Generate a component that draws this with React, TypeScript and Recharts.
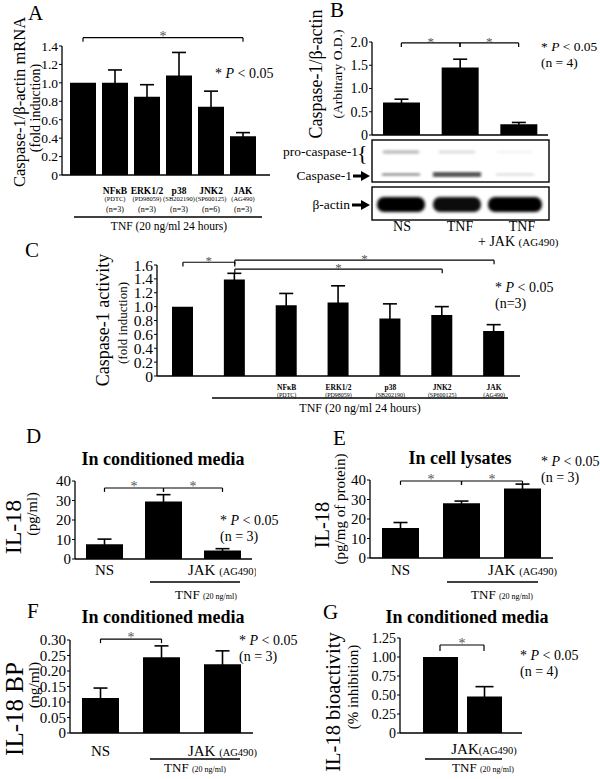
import React from 'react'
import { BarChart, Bar, XAxis, YAxis, ErrorBar, ReferenceLine } from 'recharts'

const SERIF = '"Liberation Serif", "Times New Roman", serif'

// ---- data ----
// A: caspase-1 mRNA
const aCats = ['TNF', 'NFκB', 'ERK1/2', 'p38', 'JNK2', 'JAK']
const aNames = ['', 'NFκB', 'ERK1/2', 'p38', 'JNK2', 'JAK']
const aInhib = ['', '(PDTC)', '(PD98059)', '(SB202190)', '(SP600125)', '(AG490)']
const aN = ['', '(n=3)', '(n=3)', '(n=3)', '(n=6)', '(n=3)']
const aMean = [1.0, 1.0, 0.85, 1.08, 0.74, 0.42]
const aErr = [0, 0.14, 0.13, 0.25, 0.17, 0.04]
const aTicks = [0, 0.2, 0.4, 0.6, 0.8, 1.0, 1.2, 1.4]

// B: caspase-1 / beta-actin densitometry
const bCats = ['NS', 'TNF', 'TNF + JAK']
const bMean = [0.7, 1.45, 0.23]
const bErr = [0.07, 0.18, 0.04]
const bTicks = [0, 0.5, 1.0, 1.5, 2.0]
const blotPro = [0.22, 0.1, 0.03]
const blotCasp = [0.35, 0.65, 0.1]
const blotActin = [1, 0.95, 1]

// C: caspase-1 activity
const cCats = ['NS', 'TNF', 'NFκB', 'ERK1/2', 'p38', 'JNK2', 'JAK']
const cNames = ['', '', 'NFκB', 'ERK1/2', 'p38', 'JNK2', 'JAK']
const cInhib = ['', '', '(PDTC)', '(PD98059)', '(SB202190)', '(SP600125)', '(AG490)']
const cMean = [1.0, 1.39, 1.02, 1.06, 0.83, 0.88, 0.65]
const cErr = [0, 0.09, 0.17, 0.24, 0.21, 0.12, 0.09]
const cTicks = [0, 0.2, 0.4, 0.6, 0.8, 1.0, 1.2, 1.4, 1.6]

// D/E/F: NS, TNF, TNF + JAK
const treatCats = ['NS', 'TNF', 'JAK']
const treatNames = ['NS', '', 'JAK ']
const treatSub = ['', '', '(AG490)']
const dMean = [7.6, 29.5, 4.4]
const dErr = [2.6, 3.5, 0.9]
const eMean = [15.4, 28.1, 35.7]
const eErr = [2.8, 1.1, 2.2]
const il18Ticks = [0, 10, 20, 30, 40]
const fMean = [0.113, 0.244, 0.222]
const fErr = [0.032, 0.037, 0.043]
const fTicks = [0, 0.05, 0.1, 0.15, 0.2, 0.25, 0.3]

// G: bioactivity
const gCats = ['TNF', 'JAK']
const gNames = ['', 'JAK']
const gSub = ['', '(AG490)']
const gMean = [1.0, 0.48]
const gErr = [0, 0.13]
const gTicks = [0, 0.25, 0.5, 0.75, 1.0, 1.25]

type Bracket = { from: string; to: string; y: number; drop: number }
const aBrackets: Bracket[] = [{ from: 'TNF', to: 'JAK', y: 1.49, drop: 0.045 }]
const bBrackets: Bracket[] = [
  { from: 'NS', to: 'TNF', y: 1.98, drop: 0.09 },
  { from: 'TNF', to: 'TNF + JAK', y: 1.98, drop: 0.09 },
]
const cBrackets: Bracket[] = [
  { from: 'NS', to: 'TNF', y: 1.64, drop: 0.06 },
  { from: 'TNF', to: 'JAK', y: 1.67, drop: 0.06 },
  { from: 'TNF', to: 'JNK2', y: 1.54, drop: 0.06 },
]
const dBrackets: Bracket[] = [
  { from: 'NS', to: 'TNF', y: 36.4, drop: 2 },
  { from: 'TNF', to: 'JAK', y: 36.4, drop: 2 },
]
const eBrackets: Bracket[] = [
  { from: 'NS', to: 'TNF', y: 39.5, drop: 2 },
  { from: 'TNF', to: 'JAK', y: 39.5, drop: 2 },
]
const fBrackets: Bracket[] = [{ from: 'NS', to: 'TNF', y: 0.303, drop: 0.013 }]
const gBrackets: Bracket[] = [{ from: 'TNF', to: 'JAK', y: 1.158, drop: 0.08 }]

const fmt0 = (v: number) => String(v)
const fmt1 = (v: number) => (v === 0 ? '0' : v.toFixed(1))
const fmt2 = (v: number) => (v === 0 ? '0' : v.toFixed(2))

const AXIS = { stroke: '#000', strokeWidth: 1.3 }

const StarLabel = ({ viewBox, size }: any) => {
  if (!viewBox) return null
  const { x, y, width } = viewBox
  return (
    <text x={x + width / 2} y={y + size * 0.22} textAnchor="middle" fontSize={size} fill="#555">*</text>
  )
}

function bracketLines(brs: Bracket[], star: number) {
  return brs.flatMap((b, i) => [
    <ReferenceLine
      key={`h${i}`}
      segment={[{ x: b.from, y: b.y }, { x: b.to, y: b.y }]}
      stroke="#000"
      strokeWidth={1.2}
      ifOverflow="visible"
      label={<StarLabel size={star} />}
    />,
    <ReferenceLine key={`l${i}`} segment={[{ x: b.from, y: b.y }, { x: b.from, y: b.y - b.drop }]}
      stroke="#000" strokeWidth={1.2} ifOverflow="visible" />,
    <ReferenceLine key={`r${i}`} segment={[{ x: b.to, y: b.y }, { x: b.to, y: b.y - b.drop }]}
      stroke="#000" strokeWidth={1.2} ifOverflow="visible" />,
  ])
}

interface PanelProps {
  box: [number, number, number, number] // plot area: left, top, right, bottom
  cats: string[]
  mean: number[]
  err: number[]
  domain: [number, number]
  ticks: number[]
  fmt: (v: number) => string
  barSize: number
  tickFont: number
  xTick?: any
  pad?: { left: number; right: number }
  brackets: Bracket[]
  star?: number
  capW?: number
}

function Panel({ box, cats, mean, err, domain, ticks, fmt, barSize, tickFont, xTick, pad, brackets, star = 14, capW = 7 }: PanelProps) {
  const YW = 44, MT = 34, MR = 4, XH = 44
  const [l, t, r, b] = box
  const data = cats.map((c, i) => ({ cat: c, mean: mean[i], err: err[i] }))
  return (
    <div style={{ position: 'absolute', left: l - YW, top: t - MT }}>
      <BarChart
        width={r - l + YW + MR}
        height={b - t + MT + XH}
        data={data}
        margin={{ top: MT, right: MR, bottom: 0, left: 0 }}
      >
        <XAxis
          dataKey="cat"
          interval={0}
          tickSize={0}
          tickLine={false}
          axisLine={AXIS}
          tick={xTick ?? false}
          height={XH}
          padding={pad ?? { left: 0, right: 0 }}
        />
        <YAxis
          width={YW}
          domain={domain}
          ticks={ticks}
          interval={0}
          tickFormatter={fmt}
          tickSize={3}
          tickMargin={1}
          axisLine={AXIS}
          tickLine={{ stroke: '#000' }}
          tick={{ fill: '#000', fontSize: tickFont, fontFamily: SERIF }}
        />
        <Bar dataKey="mean" fill="#000" barSize={barSize} isAnimationActive={false}>
          <ErrorBar dataKey="err" width={capW} stroke="#000" strokeWidth={1.6} direction="y" />
        </Bar>
        {bracketLines(brackets, star)}
      </BarChart>
    </div>
  )
}

const aTick = ({ x, y, index }: any) => (
  <g textAnchor="middle" fill="#000">
    <text x={x} y={y + 17} fontSize={9.5} fontWeight="bold">{aNames[index]}</text>
    <text x={x} y={y + 24} fontSize={6.5}>{aInhib[index]}</text>
    <text x={x} y={y + 35} fontSize={8}>{aN[index]}</text>
  </g>
)

const cTick = ({ x, y, index }: any) => (
  <g textAnchor="middle" fill="#000">
    <text x={x} y={y + 12} fontSize={7.5} fontWeight="bold">{cNames[index]}</text>
    <text x={x} y={y + 19} fontSize={6}>{cInhib[index]}</text>
  </g>
)

const labelTick = (names: string[], subs: string[], dy: number) => ({ x, y, index }: any) => (
  <text x={x} y={y + dy} textAnchor="middle" fontSize={15} fill="#000">
    {names[index]}
    <tspan fontSize={10.5}>{subs[index]}</tspan>
  </text>
)

// rotated axis titles
const VLabel = ({ x, y, s, children }: any) => (
  <text transform={`translate(${x},${y}) rotate(-90)`} textAnchor="middle" dominantBaseline="central" fontSize={s}>
    {children}
  </text>
)

const PVal = ({ x, y, n, s = 14 }: any) => (
  <g fontSize={s}>
    <text x={x} y={y}>* <tspan fontStyle="italic">P</tspan> &lt; 0.05</text>
    {n && <text x={x} y={y + 16}>{n}</text>}
  </g>
)

const TnfLine = ({ x1, x2, y, cx, ty }: any) => (
  <g>
    <line x1={x1} x2={x2} y1={y} y2={y} stroke="#000" strokeWidth={1.3} />
    <text x={cx} y={ty} textAnchor="middle" fontSize={13}>
      TNF <tspan fontSize={8}>(20 ng/ml)</tspan>
    </text>
  </g>
)

const Title = ({ x, y, children }: any) => (
  <text x={x} y={y} textAnchor="middle" fontSize={18} fontWeight="bold">{children}</text>
)

function Blot() {
  const lanes = [401, 457, 515]
  return (
    <g>
      <defs>
        <filter id="bl1" x="-30%" y="-200%" width="160%" height="500%"><feGaussianBlur stdDeviation="1.6 1.0" /></filter>
        <filter id="bl2" x="-20%" y="-50%" width="140%" height="200%"><feGaussianBlur stdDeviation="1.8" /></filter>
      </defs>
      <rect x={372} y={140} width={177} height={42} fill="#fff" stroke="#000" strokeWidth={1.4} />
      {lanes.map((cx, i) => (
        <g key={i}>
          <rect x={cx - 18} y={150} width={36} height={4} fill="#000" opacity={blotPro[i]} filter="url(#bl1)" />
          <rect x={cx - (i === 1 ? 24 : 19)} y={i === 1 ? 172 : 173} width={i === 1 ? 48 : 38} height={i === 1 ? 5 : 3}
            fill="#000" opacity={blotCasp[i]} filter="url(#bl1)" />
        </g>
      ))}
      <rect x={372} y={187} width={177} height={33} fill="#fff" stroke="#000" strokeWidth={1.4} />
      {lanes.map((cx, i) => (
        <rect key={i} x={cx - (i === 2 ? 27 : 24)} y={197} width={i === 2 ? 54 : 48} height={15} rx={7}
          fill="#000" opacity={blotActin[i]} filter="url(#bl2)" />
      ))}
      <text x={358} y={156} textAnchor="end" fontSize={13.5}>pro-caspase-1</text>
      <text x={357} y={160} fontSize={22}>{'{'}</text>
      <text x={352} y={180} textAnchor="end" fontSize={13.5}>Caspase-1</text>
      <line x1={353} x2={362} y1={176} y2={176} stroke="#000" strokeWidth={3} />
      <polygon points="361,171 370,176 361,181" fill="#000" />
      <text x={350} y={209} textAnchor="end" fontSize={13.5}>β-actin</text>
      <line x1={352} x2={362} y1={205} y2={205} stroke="#000" strokeWidth={3} />
      <polygon points="361,200 370,205 361,210" fill="#000" />
      <g fontSize={14} textAnchor="middle">
        <text x={402} y={231}>NS</text>
        <text x={460} y={231}>TNF</text>
        <text x={522} y={231}>TNF</text>
      </g>
      <text x={478} y={246} fontSize={14}>+ JAK <tspan fontSize={11}>(AG490)</tspan></text>
    </g>
  )
}

function Overlay() {
  return (
    <svg width={600} height={779} style={{ position: 'absolute', left: 0, top: 0, pointerEvents: 'none' }} fill="#000">
      {/* panel letters */}
      <g fontSize={21}>
        <text x={28} y={20}>A</text>
        <text x={330} y={17}>B</text>
        <text x={25} y={257}>C</text>
        <text x={26} y={443}>D</text>
        <text x={333} y={445}>E</text>
        <text x={27} y={618}>F</text>
        <text x={323} y={619}>G</text>
      </g>

      {/* A */}
      <VLabel x={19} y={102} s={16.5}>Caspase-1/β-actin mRNA</VLabel>
      <VLabel x={35} y={108} s={14}>(fold induction)</VLabel>
      <PVal x={215} y={78} />
      <line x1={74} x2={262} y1={217} y2={217} stroke="#000" strokeWidth={1.3} />
      <text x={169} y={230} textAnchor="middle" fontSize={11.5}>TNF (20 ng/ml 24 hours)</text>

      {/* B */}
      <VLabel x={316} y={74} s={18}>Caspase-1/β-actin</VLabel>
      <VLabel x={337} y={74} s={13.5}>(Arbitrary O.D.)</VLabel>
      <PVal x={541} y={51} n="(n = 4)" s={13.5} />
      <Blot />

      {/* C */}
      <VLabel x={103} y={320} s={18}>Caspase-1 activity</VLabel>
      <VLabel x={122} y={323} s={13}>(fold induction)</VLabel>
      <PVal x={495} y={292} n="(n=3)" />
      <line x1={212} x2={508} y1={398} y2={398} stroke="#000" strokeWidth={1.3} />
      <text x={360} y={412} textAnchor="middle" fontSize={12}>TNF (20 ng/ml 24 hours)</text>

      {/* D */}
      <Title x={163} y={465}>In conditioned media</Title>
      <VLabel x={13} y={527} s={24}>IL-18</VLabel>
      <VLabel x={32} y={514} s={14.5}>(pg/ml)</VLabel>
      <PVal x={220} y={525} n="(n = 3)" />
      <TnfLine x1={150} x2={240} y={582} cx={206} ty={599} />

      {/* E */}
      <Title x={460} y={464}>In cell lysates</Title>
      <VLabel x={322} y={525} s={20.5}>IL-18</VLabel>
      <VLabel x={340} y={509} s={15}>(pg/mg of protein)</VLabel>
      <PVal x={541} y={466} n="(n = 3)" />
      <TnfLine x1={447} x2={538} y={582} cx={502} ty={599} />

      {/* F */}
      <Title x={163} y={623}>In conditioned media</Title>
      <VLabel x={14} y={709} s={25}>IL-18 BP</VLabel>
      <VLabel x={33} y={685} s={15.5}>(ng/ml)</VLabel>
      <PVal x={239} y={645} n="(n = 3)" />
      <TnfLine x1={150} x2={240} y={759} cx={195} ty={772} />

      {/* G */}
      <Title x={467} y={623}>In conditioned media</Title>
      <VLabel x={333} y={702} s={20.5}>IL-18 bioactivity</VLabel>
      <VLabel x={353} y={687} s={15}>(% inhibition)</VLabel>
      <PVal x={520} y={660} n="(n = 4)" />
      <TnfLine x1={425} x2={502} y={759} cx={483} ty={772} />
    </svg>
  )
}

export default function App() {
  return (
    <div style={{ position: 'absolute', left: 0, top: 0, width: 600, height: 779, background: '#fff', overflow: 'hidden' }}>
      <style>{`svg text, svg tspan { font-family: ${SERIF} !important; }`}</style>
      <Panel box={[62, 46, 270, 175]} cats={aCats} mean={aMean} err={aErr} domain={[0, 1.4]} ticks={aTicks}
        fmt={fmt1} barSize={26} tickFont={13.5} xTick={aTick} pad={{ left: 5, right: 11 }} brackets={aBrackets} />
      <Panel box={[372, 42, 548, 135]} cats={bCats} mean={bMean} err={bErr} domain={[0, 2]} ticks={bTicks}
        fmt={fmt1} barSize={37} tickFont={14} brackets={bBrackets} star={13} />
      <Panel box={[157, 265, 520, 376]} cats={cCats} mean={cMean} err={cErr} domain={[0, 1.6]} ticks={cTicks}
        fmt={fmt1} barSize={21} tickFont={15.5} xTick={cTick} brackets={cBrackets} star={13} />
      <Panel box={[75, 481, 252, 559]} cats={treatCats} mean={dMean} err={dErr} domain={[0, 40]} ticks={il18Ticks}
        fmt={fmt0} barSize={37} tickFont={15} xTick={labelTick(treatNames, treatSub, 14)} brackets={dBrackets} />
      <Panel box={[370, 480, 553, 558]} cats={treatCats} mean={eMean} err={eErr} domain={[0, 40]} ticks={il18Ticks}
        fmt={fmt0} barSize={37} tickFont={15} xTick={labelTick(treatNames, treatSub, 15)} brackets={eBrackets} />
      <Panel box={[70, 640, 253, 733]} cats={treatCats} mean={fMean} err={fErr} domain={[0, 0.3]} ticks={fTicks}
        fmt={fmt2} barSize={37} tickFont={15} xTick={labelTick(treatNames, treatSub, 21)} brackets={fBrackets} />
      <Panel box={[400, 638, 522, 733]} cats={gCats} mean={gMean} err={gErr} domain={[0, 1.25]} ticks={gTicks}
        fmt={fmt2} barSize={35} tickFont={14} xTick={labelTick(gNames, gSub, 19)} pad={{ left: 18, right: 16 }}
        brackets={gBrackets} capW={9} />
      <Overlay />
    </div>
  )
}
